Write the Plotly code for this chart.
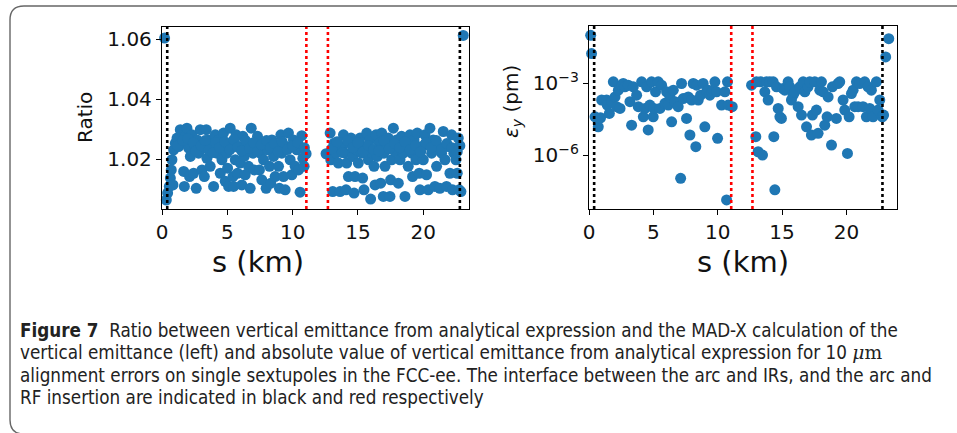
import plotly.graph_objects as go

W, H = 957, 433

# ---------------- data ----------------
# Left panel: ratio vs s (km)
ratio_s = [0.2, 23.06, 0.33, 0.43, 0.56, 0.64, 0.71, 0.76, 0.84, 0.89, 1.02, 1.15, 1.27, 1.4, 1.53, 1.66, 1.71,
           1.78, 1.91, 2.04, 2.11, 2.17, 2.29, 2.42, 2.5, 2.62, 2.68, 2.8, 2.93, 3.06, 3.13, 3.24, 3.39, 3.44, 3.57,
           3.69, 3.82, 3.95, 4.08, 4.2, 4.33, 4.46, 4.59, 4.66, 4.71, 4.84, 4.97, 5.02, 5.1, 5.22, 5.35, 5.43, 5.48,
           5.61, 5.68, 5.78, 5.94, 5.99, 6.11, 6.19, 6.29, 6.37, 6.5, 6.62, 6.75, 6.83, 6.96, 7.06, 7.21, 7.31, 7.46,
           7.52, 7.64, 7.77, 7.9, 7.97, 8.08, 8.23, 8.33, 8.41, 8.54, 8.66, 8.79, 8.92, 8.99, 9.1, 9.17, 9.3, 9.43,
           9.5, 9.68, 9.81, 9.94, 10.06, 10.19, 10.32, 10.45, 10.57, 10.7, 10.78, 10.88, 11.03,
           12.56, 12.87, 12.92, 13.07, 13.17, 13.32, 13.5, 13.63, 13.76, 13.89, 14.01, 14.09, 14.14, 14.27, 14.39,
           14.47, 14.6, 14.7, 14.78, 14.9, 15.03, 15.16, 15.29, 15.36, 15.46, 15.54, 15.67, 15.8, 15.92, 15.97,
           16.05, 16.23, 16.31, 16.38, 16.48, 16.64, 16.74, 16.82, 16.94, 16.99, 17.07, 17.2, 17.32, 17.45, 17.5,
           17.58, 17.71, 17.83, 17.96, 18.09, 18.22, 18.34, 18.47, 18.6, 18.73, 18.85, 18.98, 19.11, 19.18, 19.29,
           19.44, 19.54, 19.69, 19.75, 19.87, 20.0, 20.13, 20.25, 20.38, 20.51, 20.64, 20.76, 20.89, 21.02, 21.15,
           21.27, 21.4, 21.53, 21.66, 21.78, 21.91, 22.04, 22.17, 22.24, 22.34, 22.5, 22.6, 22.68, 22.75, 22.88,
           1.2, 1.6, 2.0, 2.4, 2.6, 3.0, 3.3, 3.6, 3.9, 4.1, 4.4, 4.8, 5.2, 5.5, 5.8, 6.1, 6.4, 6.7, 7.0, 7.3, 7.6,
           8.0, 8.3, 8.6, 8.9, 9.2, 9.6, 10.0, 10.4, 10.9,
           13.0, 13.4, 13.8, 14.2, 14.6, 15.0, 15.4, 15.8, 16.2, 16.6, 17.0, 17.4, 17.8, 18.2, 18.6, 19.0, 19.4,
           19.8, 20.2, 20.6, 21.0, 21.4, 21.8, 22.2, 22.6, 22.8]
ratio_val = [1.0603, 1.0612, 1.0064, 1.0087, 1.0109, 1.0137, 1.0164, 1.0198, 1.0114, 1.0231, 1.0253, 1.0270, 1.0242,
             1.0298, 1.0253, 1.0159, 1.0109, 1.0276, 1.0303, 1.0237, 1.0142, 1.0209, 1.0281, 1.0153, 1.0242, 1.0103,
             1.0264, 1.0220, 1.0298, 1.0164, 1.0237, 1.0142, 1.0298, 1.0203, 1.0264, 1.0176, 1.0242, 1.0109, 1.0281,
             1.0220, 1.0264, 1.0153, 1.0198, 1.0242, 1.0287, 1.0126, 1.0220, 1.0170, 1.0109, 1.0303, 1.0248, 1.0142,
             1.0109, 1.0198, 1.0281, 1.0153, 1.0242, 1.0187, 1.0114, 1.0276, 1.0209, 1.0148, 1.0242, 1.0176, 1.0103,
             1.0303, 1.0220, 1.0164, 1.0242, 1.0276, 1.0164, 1.0220, 1.0131, 1.0198, 1.0253, 1.0103, 1.0231, 1.0176,
             1.0120, 1.0264, 1.0209, 1.0142, 1.0242, 1.0176, 1.0103, 1.0281, 1.0220, 1.0142, 1.0098, 1.0242, 1.0287,
             1.0198, 1.0148, 1.0264, 1.0176, 1.0231, 1.0164, 1.0090, 1.0278, 1.0203, 1.0176, 1.0218,
             1.0218, 1.0287, 1.0198, 1.0092, 1.0253, 1.0220, 1.0187, 1.0092, 1.0242, 1.0281, 1.0220, 1.0098, 1.0187,
             1.0142, 1.0253, 1.0270, 1.0209, 1.0087, 1.0142, 1.0231, 1.0187, 1.0270, 1.0220, 1.0137, 1.0098, 1.0242,
             1.0287, 1.0198, 1.0264, 1.0067, 1.0220, 1.0176, 1.0114, 1.0281, 1.0209, 1.0253, 1.0120, 1.0287, 1.0076,
             1.0220, 1.0176, 1.0242, 1.0270, 1.0076, 1.0131, 1.0198, 1.0303, 1.0226, 1.0264, 1.0120, 1.0198, 1.0276,
             1.0220, 1.0076, 1.0242, 1.0176, 1.0281, 1.0220, 1.0142, 1.0264, 1.0198, 1.0287, 1.0153, 1.0098, 1.0242,
             1.0198, 1.0281, 1.0148, 1.0098, 1.0303, 1.0220, 1.0264, 1.0109, 1.0176, 1.0242, 1.0103, 1.0220, 1.0292,
             1.0198, 1.0109, 1.0242, 1.0153, 1.0281, 1.0098, 1.0220, 1.0198, 1.0153, 1.0270, 1.0098, 1.0092,
             1.0245, 1.0262, 1.0268, 1.0255, 1.0228, 1.0245, 1.0262, 1.0230, 1.0222, 1.0255, 1.0238, 1.0258, 1.0232,
             1.0265, 1.0240, 1.0228, 1.0262, 1.0236, 1.0255, 1.0225, 1.0248, 1.0262, 1.0238, 1.0252, 1.0225, 1.0258,
             1.0232, 1.0245, 1.0255, 1.0238,
             1.0235, 1.0258, 1.0222, 1.0262, 1.0238, 1.0255, 1.0225, 1.0245, 1.0232, 1.0228, 1.0262, 1.0235, 1.0252,
             1.0238, 1.0258, 1.0232, 1.0245, 1.0225, 1.0255, 1.0238, 1.0262, 1.0232, 1.0252, 1.0238, 1.0225, 1.0245]

# Right panel: vertical emittance eps_y (pm) vs s (km), stored as log10 values
emit_s = [0.13, 0.2, 0.47, 0.72, 0.9, 0.98, 1.37, 1.42, 1.58, 1.76, 1.89, 2.02, 2.15, 2.28, 2.41, 2.54, 2.66, 2.79,
          3.05, 3.18, 3.31, 3.44, 3.7, 3.83, 4.09, 4.22, 4.35, 4.48, 4.6, 4.73, 4.86, 4.99, 5.05, 5.17, 5.38, 5.51,
          5.64, 5.9, 6.03, 6.16, 6.29, 6.42, 6.55, 6.68, 6.93, 7.12, 7.19, 7.32, 7.58, 7.71, 7.84, 7.97, 8.1, 8.3,
          8.36, 8.49, 8.67, 8.87, 9.0, 9.13, 9.26, 9.39, 9.52, 9.65, 9.78, 9.91, 9.99, 10.3, 10.56, 10.69, 10.76,
          10.82, 11.13,
          12.63, 12.96, 13.01, 13.14, 13.32, 13.48, 13.66, 13.79, 13.92, 14.05, 14.31, 14.36, 14.44, 14.57, 14.7,
          14.83, 14.95, 15.08, 15.21, 15.47, 15.6, 15.73, 15.86, 15.99, 16.25, 16.38, 16.51, 16.64, 16.77, 16.9,
          17.02, 17.15, 17.28, 17.36, 17.54, 17.67, 17.8, 17.93, 18.06, 18.19, 18.32, 18.5, 18.58, 18.84, 18.91,
          19.22, 19.35, 19.48, 19.74, 19.87, 20.08, 20.21, 20.39, 20.52, 20.65, 20.78, 20.91, 21.03, 21.29, 21.42,
          21.55, 21.68, 21.81, 21.94, 22.07, 22.33, 22.46, 22.59, 22.79, 22.89, 23.05, 23.29]
emit_log10 = [-0.99, -1.75, -4.39, -4.81, -4.43, -3.69, -3.69, -3.9, -4.25, -3.76, -2.93, -3.56, -3.97, -3.28,
              -4.04, -3.07, -3.0, -3.14, -3.07, -3.76, -4.74, -3.14, -3.49, -3.97, -2.93, -4.39, -4.04, -3.14,
              -4.94, -3.9, -2.93, -4.39, -4.04, -3.35, -2.93, -4.04, -3.07, -3.83, -3.35, -3.9, -3.56, -4.6, -3.28,
              -3.76, -3.97, -6.96, -3.0, -3.63, -4.46, -3.56, -5.15, -3.69, -3.0, -5.64, -3.07, -3.69, -3.49, -3.0,
              -4.81, -3.35, -3.28, -3.49, -3.35, -3.28, -2.93, -3.35, -5.29, -3.9, -3.35, -7.86, -2.93, -3.9, -3.97,
              -3.07, -5.22, -2.93, -5.85, -2.93, -5.99, -3.35, -2.93, -3.69, -2.93, -2.93, -5.22, -7.44, -3.14,
              -4.04, -4.39, -4.46, -3.21, -3.28, -2.93, -3.14, -3.69, -3.49, -3.35, -3.97, -3.14, -4.32, -2.93,
              -3.35, -4.81, -3.14, -2.93, -5.15, -4.32, -2.93, -4.11, -5.08, -3.28, -2.93, -3.35, -4.74, -4.39,
              -3.56, -5.57, -3.14, -4.46, -3.0, -2.93, -3.69, -4.11, -5.92, -4.39, -3.42, -3.28, -3.97, -2.93,
              -3.97, -3.0, -3.97, -2.93, -4.39, -3.14, -4.04, -3.28, -4.39, -2.93, -4.11, -3.69, -4.39, -4.32,
              -1.89, -1.13]
emit_val = [10 ** v for v in emit_log10]

# Interfaces: arc / IRs (black) and arc / RF insertion (red)
ir_lines = [0.4, 22.8]
rf_lines = [11.05, 12.7]

x_ticks = [0, 5, 10, 15, 20]
ratio_ticks = [1.02, 1.04, 1.06]
emit_ticks = [1e-6, 1e-3]
emit_ticktext = ["10<sup>−6</sup>", "10<sup>−3</sup>"]

caption_lines = [
    "<b>Figure 7</b>  Ratio between vertical emittance from analytical expression and the MAD-X calculation of the",
    "vertical emittance (left) and absolute value of vertical emittance from analytical expression for 10 "
    "<span style=\"font-family:'DejaVu Serif'\"><i>μ</i>m</span>",
    "alignment errors on single sextupoles in the FCC-ee. The interface between the arc and IRs, and the arc and",
    "RF insertion are indicated in black and red respectively",
]

# ---------------- figure ----------------
BLUE = "#1f77b4"
TICKFONT = dict(family="DejaVu Sans", size=20, color="#111")


def px(x):
    return x / W


def py(y):
    return 1 - y / H


fig = go.Figure()
fig.add_trace(go.Scatter(x=ratio_s, y=ratio_val, mode="markers", cliponaxis=False,
                         marker=dict(color=BLUE, size=11, line=dict(width=0)),
                         xaxis="x", yaxis="y", showlegend=False))
fig.add_trace(go.Scatter(x=emit_s, y=emit_val, mode="markers", cliponaxis=False,
                         marker=dict(color=BLUE, size=11, line=dict(width=0)),
                         xaxis="x2", yaxis="y2", showlegend=False))

axis_common = dict(showline=True, linecolor="black", linewidth=1.3, mirror=True,
                   ticks="outside", ticklen=5, tickwidth=1.2, tickcolor="black", automargin=False,
                   showgrid=False, zeroline=False, tickfont=TICKFONT)

fig.update_layout(
    width=W, height=H,
    margin=dict(l=0, r=0, t=0, b=0, autoexpand=False),
    paper_bgcolor="white", plot_bgcolor="white",
    xaxis=dict(domain=[px(162), px(469)], range=[0, 23.5], tickvals=x_ticks, anchor="y", **axis_common),
    yaxis=dict(domain=[py(209), py(27)], range=[1.0034, 1.064], tickvals=ratio_ticks,
               tickformat=".2f", anchor="x", **axis_common),
    xaxis2=dict(domain=[px(589), px(897)], range=[0, 23.93], tickvals=x_ticks, anchor="y2", **axis_common),
    yaxis2=dict(domain=[py(209), py(26)], type="log", range=[-8.24, -0.6], tickvals=emit_ticks,
                ticktext=emit_ticktext, anchor="x2", **axis_common),
)

shapes = []
for xa, ya in (("x", "y"), ("x2", "y2")):
    for v in ir_lines:
        shapes.append(dict(type="line", xref=xa, yref=ya + " domain", x0=v, x1=v, y0=0, y1=1,
                           line=dict(color="black", width=2.6, dash="dot")))
    for v in rf_lines:
        shapes.append(dict(type="line", xref=xa, yref=ya + " domain", x0=v, x1=v, y0=0, y1=1,
                           line=dict(color="red", width=2.6, dash="dot")))

# outer rounded frame
frame = (f"M {px(970)},{py(6)} L {px(24)},{py(6)} Q {px(10)},{py(6)} {px(10)},{py(20)} "
         f"L {px(10)},{py(420)} Q {px(10)},{py(434)} {px(24)},{py(434)}")
shapes.append(dict(type="path", xref="paper", yref="paper", path=frame,
                   line=dict(color="#666", width=1.4)))
fig.update_layout(shapes=shapes)

ann = []
# axis titles
ann.append(dict(text="s (km)", x=px(258), y=py(262), xref="paper", yref="paper", showarrow=False,
                font=dict(family="DejaVu Sans", size=29, color="#111"), xanchor="center", yanchor="middle"))
ann.append(dict(text="s (km)", x=px(743), y=py(262), xref="paper", yref="paper", showarrow=False,
                font=dict(family="DejaVu Sans", size=29, color="#111"), xanchor="center", yanchor="middle"))
ann.append(dict(text="Ratio", x=px(85), y=py(118), xref="paper", yref="paper", showarrow=False, textangle=-90,
                font=dict(family="DejaVu Sans", size=20, color="#111"), xanchor="center", yanchor="middle"))
ann.append(dict(text="<i>ε</i><sub><i>y</i></sub> (pm)", x=px(512), y=py(102), xref="paper", yref="paper",
                showarrow=False, textangle=-90,
                font=dict(family="DejaVu Sans", size=20, color="#111"), xanchor="center", yanchor="middle"))
# caption
cap_y = [330, 352, 375, 397]
for txt, yy in zip(caption_lines, cap_y):
    ann.append(dict(text=txt, x=px(18), y=py(yy), xref="paper", yref="paper", showarrow=False,
                    xanchor="left", yanchor="middle", align="left",
                    font=dict(family="DejaVu Sans Condensed, sans-serif", size=18.7, color="#222")))
fig.update_layout(annotations=ann)

fig.write_html("out.html", config={"displayModeBar": False},
               post_script="document.body.style.margin='0';document.body.style.padding='0';")
